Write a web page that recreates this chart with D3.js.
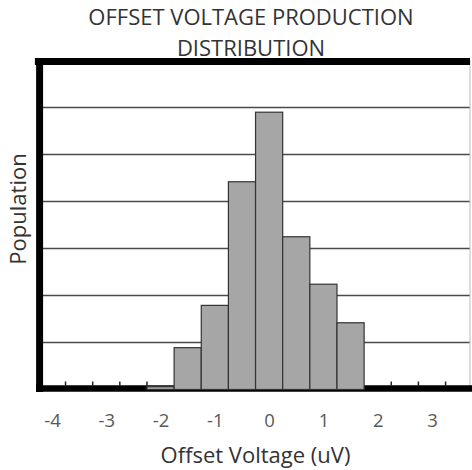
<!DOCTYPE html>
<html>
<head>
<meta charset="utf-8">
<script src="https://cdn.jsdelivr.net/npm/d3@7"></script>
<style>
  html, body { margin: 0; padding: 0; background: #fff; }
  svg { display: block; }
  text { font-family: "Open Sans", "DejaVu Sans", sans-serif; }
</style>
</head>
<body>
<script>
// ---- data ----
const titleLines = ["OFFSET VOLTAGE PRODUCTION", "DISTRIBUTION"];
const xLabel = "Offset Voltage (uV)";
const yLabel = "Population";
const binCenters = [-2, -1.5, -1, -0.5, 0, 0.5, 1, 1.5];
const binValues  = [0.06, 0.89, 1.79, 4.42, 5.9, 3.25, 2.24, 1.42];
const binWidth = 0.5;
const xTicks = [-4, -3, -2, -1, 0, 1, 2, 3];
const yGrid = [1, 2, 3, 4, 5, 6];
const emptyBinEdges = [-3.75, -3.25, -2.75, -2.25, 2.25, 2.75, 3.25];

const W = 472, H = 470;
const svg = d3.select("body").append("svg").attr("width", W).attr("height", H);

const x = d3.scaleLinear().domain([-4.25, 3.75]).range([38.4, 472.7]);
const y = d3.scaleLinear().domain([0, 7]).range([389.5, 60.5]);

// title
svg.append("g").selectAll("text").data(titleLines).join("text")
  .attr("x", 251).attr("y", (d, i) => 25 + i * 30.5)
  .attr("text-anchor", "middle").attr("font-size", 22).attr("fill", "#333")
  .text(d => d);

// gridlines
svg.append("g").selectAll("line").data(yGrid).join("line")
  .attr("x1", x(-4.25)).attr("x2", 470)
  .attr("y1", d => y(d)).attr("y2", d => y(d))
  .attr("stroke", "#4a4a4a").attr("stroke-width", 1.5);

// thin right edge
svg.append("line").attr("x1", 470).attr("x2", 470).attr("y1", y(7)).attr("y2", y(0))
  .attr("stroke", "#bbb").attr("stroke-width", 1);

// thick frame (top, left, bottom)
const fw = 7;
svg.append("line").attr("x1", x(-4.25) - fw/2).attr("x2", 470)
  .attr("y1", 61.5).attr("y2", 61.5).attr("stroke", "#000").attr("stroke-width", fw);
svg.append("line").attr("x1", 39.6).attr("x2", 39.6)
  .attr("y1", 58).attr("y2", 392).attr("stroke", "#000").attr("stroke-width", fw);
svg.append("line").attr("x1", 36).attr("x2", W)
  .attr("y1", 388.5).attr("y2", 388.5).attr("stroke", "#000").attr("stroke-width", 6.5);

// minor ticks at empty-bin edges
svg.append("g").selectAll("line").data(emptyBinEdges).join("line")
  .attr("x1", d => x(d)).attr("x2", d => x(d))
  .attr("y1", 381.5).attr("y2", 386)
  .attr("stroke", "#222").attr("stroke-width", 1.5);

// bars
svg.append("g").selectAll("rect").data(binCenters.map((c, i) => ({c, v: binValues[i]}))).join("rect")
  .attr("x", d => x(d.c - binWidth / 2))
  .attr("width", d => x(d.c + binWidth / 2) - x(d.c - binWidth / 2))
  .attr("y", d => y(d.v))
  .attr("height", d => y(0) - y(d.v))
  .attr("fill", "#a6a6a6").attr("stroke", "#333").attr("stroke-width", 1.2);

// x tick labels
const xAxis = d3.axisBottom(x).tickValues(xTicks).tickSize(0).tickPadding(0)
  .tickFormat(d => d < 0 ? "-" + Math.abs(d) : String(d));
const gx = svg.append("g").attr("transform", "translate(0,414)").call(xAxis);
gx.select(".domain").remove();
gx.selectAll("text").attr("font-size", 18.5).attr("fill", "#595959")
  .attr("font-family", "'Open Sans', sans-serif").attr("dy", "0.71em");

// axis titles
svg.append("text").attr("x", 255.5).attr("y", 463).attr("text-anchor", "middle")
  .attr("font-size", 22).attr("fill", "#333").text(xLabel);
svg.append("text").attr("transform", "translate(26,209) rotate(-90)")
  .attr("text-anchor", "middle").attr("font-size", 22).attr("fill", "#333").text(yLabel);
</script>
</body>
</html>
